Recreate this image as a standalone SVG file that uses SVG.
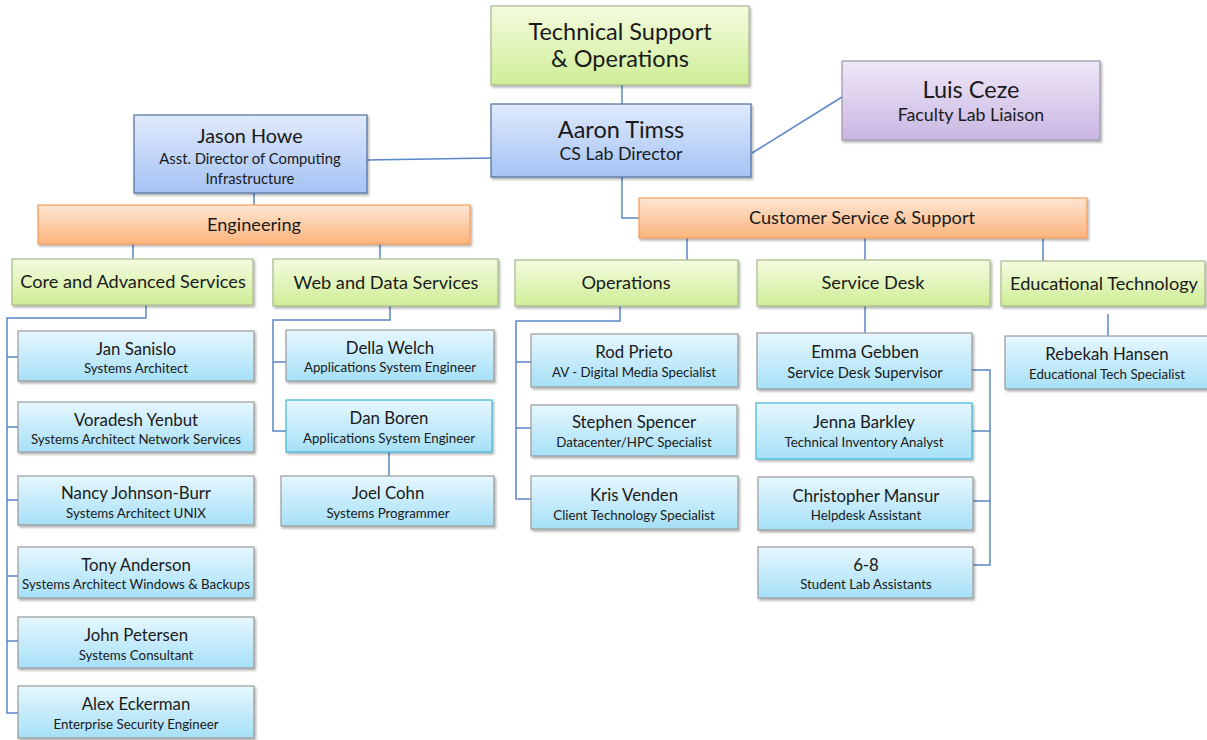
<svg xmlns="http://www.w3.org/2000/svg" width="1207" height="740" viewBox="0 0 1207 740">
<defs>
<linearGradient id="gGreen" x1="0" y1="0" x2="0" y2="1"><stop offset="0" stop-color="#f4fbdf"/><stop offset="1" stop-color="#cfee97"/></linearGradient>
<linearGradient id="gBlue" x1="0" y1="0" x2="0" y2="1"><stop offset="0" stop-color="#e0eafc"/><stop offset="1" stop-color="#a5c3f4"/></linearGradient>
<linearGradient id="gPurple" x1="0" y1="0" x2="0" y2="1"><stop offset="0" stop-color="#efe8f8"/><stop offset="1" stop-color="#c9b6e2"/></linearGradient>
<linearGradient id="gOrange" x1="0" y1="0" x2="0" y2="1"><stop offset="0" stop-color="#fee6d3"/><stop offset="1" stop-color="#fbb47c"/></linearGradient>
<linearGradient id="gCyan" x1="0" y1="0" x2="0" y2="1"><stop offset="0" stop-color="#e6f7fe"/><stop offset="1" stop-color="#a6e0f7"/></linearGradient>
<filter id="sh" x="-5%" y="-10%" width="115%" height="130%"><feDropShadow dx="1.5" dy="2" stdDeviation="1.2" flood-color="#000" flood-opacity="0.3"/></filter>
</defs>
<style>
text{font-family:Lato,"Liberation Sans",sans-serif;fill:#1a1a1a;text-anchor:middle}
.green{fill:url(#gGreen);stroke:#a6b98a;stroke-width:1.2;filter:url(#sh)}
.blue{fill:url(#gBlue);stroke:#4f6f9e;stroke-width:1.2;filter:url(#sh)}
.purple{fill:url(#gPurple);stroke:#9c96a8;stroke-width:1.2;filter:url(#sh)}
.orange{fill:url(#gOrange);stroke:#f39b5c;stroke-width:1.2;filter:url(#sh)}
.cyan{fill:url(#gCyan);stroke:#9a9a9a;stroke-width:1.2;filter:url(#sh)}
.cyanT{fill:url(#gCyan);stroke:#3fb7d6;stroke-width:1.2;filter:url(#sh)}
.big{font-size:23.5px}
.mid{font-size:17.8px}
.grp{font-size:18.2px}
.nm{font-size:16.8px}
.tt{font-size:13.3px}
.con{fill:none;stroke:#5a87c6;stroke-width:1.5}
</style>
<g id="connectors">
<path class="con" d="M622 85V104"/>
<path class="con" d="M752 153L842 97"/>
<path class="con" d="M367 160L491 158"/>
<path class="con" d="M254 193V205"/>
<path class="con" d="M622 177V218H639"/>
<path class="con" d="M133 244V260M380 244V260"/>
<path class="con" d="M687 238V260M865 238V260M1043 238V261"/>
<path class="con" d="M146 305V318H7V713H18M7 357H18M7 427H18M7 500H18M7 576H18M7 641H18"/>
<path class="con" d="M390 306V320H273V431H286M273 362H286"/>
<path class="con" d="M389 452V476"/>
<path class="con" d="M620 306V321H516V499H531M516 362H531M516 428H531"/>
<path class="con" d="M865 306V333"/>
<path class="con" d="M972 370H990V565H973M972 431H990M973 501H990"/>
<path class="con" d="M1108 314V336"/>
</g>
<g id="tso"><rect class="green" x="491" y="6" width="258" height="79"/><text class="big" x="620" y="40">Technical Support</text><text class="big" x="620" y="67">&amp; Operations</text></g>
<g id="aaron"><rect class="blue" x="491" y="104" width="260" height="73"/><text class="big" x="621" y="138">Aaron Timss</text><text class="mid" x="621" y="160">CS Lab Director</text></g>
<g id="luis"><rect class="purple" x="842" y="61" width="258" height="79"/><text class="big" x="971" y="98">Luis Ceze</text><text class="mid" x="971" y="121">Faculty Lab Liaison</text></g>
<g id="jason"><rect class="blue" x="134" y="115" width="233" height="78"/><text x="250" y="143" style="font-size:19.8px">Jason Howe</text><text x="250" y="164" style="font-size:14.8px">Asst. Director of Computing</text><text x="250" y="184" style="font-size:14.8px">Infrastructure</text></g>
<g id="engineering"><rect class="orange" x="38" y="205" width="432" height="39"/><text class="grp" x="254" y="231">Engineering</text></g>
<g id="css"><rect class="orange" x="639" y="198" width="448" height="40"/><text class="grp" x="862" y="224">Customer Service &amp; Support</text></g>
<g id="core"><rect class="green" x="12" y="259" width="241" height="46"/><text class="grp" x="133" y="288">Core and Advanced Services</text></g>
<g id="web"><rect class="green" x="273" y="259" width="225" height="47"/><text class="grp" x="386" y="289">Web and Data Services</text></g>
<g id="operations"><rect class="green" x="515" y="260" width="223" height="46"/><text class="grp" x="626" y="289">Operations</text></g>
<g id="servicedesk"><rect class="green" x="757" y="260" width="233" height="46"/><text class="grp" x="873" y="289">Service Desk</text></g>
<g id="edtech"><rect class="green" x="1001" y="261" width="204" height="45"/><text class="grp" x="1104" y="290">Educational Technology</text></g>
<g id="jan"><rect class="cyan" x="18" y="331" width="236" height="50"/><text class="nm" x="136" y="355">Jan Sanislo</text><text class="tt" x="136" y="373">Systems Architect</text></g>
<g id="voradesh"><rect class="cyan" x="18" y="402" width="236" height="50"/><text class="nm" x="136" y="426">Voradesh Yenbut</text><text class="tt" x="136" y="444">Systems Architect Network Services</text></g>
<g id="nancy"><rect class="cyan" x="18" y="476" width="236" height="49"/><text class="nm" x="136" y="499">Nancy Johnson-Burr</text><text class="tt" x="136" y="518">Systems Architect UNIX</text></g>
<g id="tony"><rect class="cyan" x="18" y="547" width="236" height="51"/><text class="nm" x="136" y="571">Tony Anderson</text><text class="tt" x="136" y="589">Systems Architect Windows &amp; Backups</text></g>
<g id="john"><rect class="cyan" x="18" y="617" width="236" height="51"/><text class="nm" x="136" y="641">John Petersen</text><text class="tt" x="136" y="660">Systems Consultant</text></g>
<g id="alex"><rect class="cyan" x="18" y="686" width="236" height="52"/><text class="nm" x="136" y="710">Alex Eckerman</text><text class="tt" x="136" y="729">Enterprise Security Engineer</text></g>
<g id="della"><rect class="cyan" x="286" y="330" width="208" height="51"/><text class="nm" x="390" y="354">Della Welch</text><text class="tt" x="390" y="372">Applications System Engineer</text></g>
<g id="dan"><rect class="cyanT" x="286" y="400" width="206" height="52"/><text class="nm" x="389" y="424">Dan Boren</text><text class="tt" x="389" y="443">Applications System Engineer</text></g>
<g id="joel"><rect class="cyan" x="281" y="476" width="213" height="50"/><text class="nm" x="388" y="499">Joel Cohn</text><text class="tt" x="388" y="518">Systems Programmer</text></g>
<g id="rod"><rect class="cyan" x="531" y="334" width="207" height="53"/><text class="nm" x="634" y="358">Rod Prieto</text><text class="tt" x="634" y="377">AV - Digital Media Specialist</text></g>
<g id="stephen"><rect class="cyan" x="531" y="405" width="206" height="51"/><text class="nm" x="634" y="428">Stephen Spencer</text><text class="tt" x="634" y="447">Datacenter/HPC Specialist</text></g>
<g id="kris"><rect class="cyan" x="531" y="476" width="207" height="53"/><text class="nm" x="634" y="501">Kris Venden</text><text class="tt" x="634" y="520">Client Technology Specialist</text></g>
<g id="emma"><rect class="cyan" x="757" y="333" width="215" height="56"/><text class="nm" x="865" y="358">Emma Gebben</text><text x="865" y="378" style="font-size:14.7px">Service Desk Supervisor</text></g>
<g id="jenna"><rect class="cyanT" x="756" y="403" width="216" height="56"/><text class="nm" x="864" y="428">Jenna Barkley</text><text class="tt" x="864" y="447">Technical Inventory Analyst</text></g>
<g id="christopher"><rect class="cyan" x="758" y="477" width="215" height="53"/><text class="nm" x="866" y="502">Christopher Mansur</text><text class="tt" x="866" y="520">Helpdesk Assistant</text></g>
<g id="students"><rect class="cyan" x="758" y="547" width="215" height="51"/><text class="nm" x="866" y="571">6-8</text><text class="tt" x="866" y="589">Student Lab Assistants</text></g>
<g id="rebekah"><rect class="cyan" x="1005" y="336" width="205" height="53"/><text class="nm" x="1107" y="360">Rebekah Hansen</text><text class="tt" x="1107" y="379">Educational Tech Specialist</text></g>
</svg>
